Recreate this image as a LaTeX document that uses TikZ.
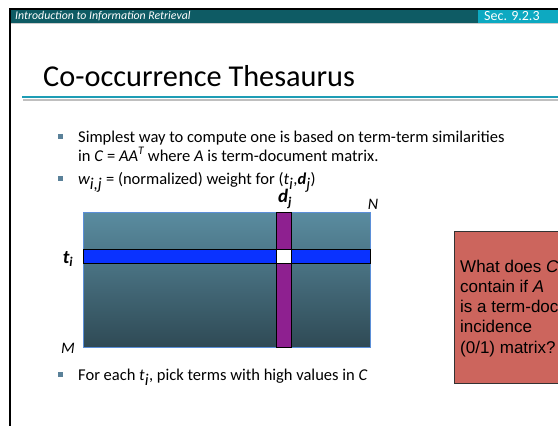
\documentclass[tikz,border=0pt]{standalone}
\usepackage{fontspec}
\setmainfont{Carlito}
\newfontfamily\arialfont{Liberation Sans}
\definecolor{hdrdark}{HTML}{0E5B64}
\definecolor{hdrcyan}{HTML}{0DA9C1}
\definecolor{rulecol}{HTML}{1E9DB5}
\definecolor{bulletcol}{HTML}{5A8199}
\definecolor{mattop}{HTML}{5A8CA0}
\definecolor{matbot}{HTML}{2F4A55}
\definecolor{matborder}{HTML}{5B8FD8}
\definecolor{blueband}{HTML}{0A32FF}
\definecolor{purpleband}{HTML}{8E2090}
\definecolor{redbox}{HTML}{CC655D}
\tikzset{
  bodytext/.style={anchor=base west, inner sep=0pt, font=\fontsize{16.5}{20}\selectfont},
  bulletsq/.style={fill=bulletcol, minimum size=5pt, inner sep=0pt},
  matlabel/.style={inner sep=0pt, font=\fontsize{19}{22}\selectfont\bfseries\itshape},
  corner/.style={inner sep=0pt, font=\fontsize{16}{18}\selectfont\itshape},
  boxtext/.style={anchor=base west, inner sep=0pt, font=\arialfont\fontsize{17}{20}\selectfont},
}
\begin{document}
\begin{tikzpicture}[x=1pt,y=-1pt]
\useasboundingbox (0,0) rectangle (558,426);
\clip (0,0) rectangle (558,426);
\fill[white] (0,0) rectangle (558,426);
% header
\fill[hdrdark] (10,10) rectangle (478,22.5);
\fill[hdrcyan] (478,10) rectangle (558,22.5);
\draw[gray!40, line width=1pt] (11,23.5) -- (558,23.5);
\draw[black, line width=2pt] (9,9) -- (558,9);
\draw[black, line width=2pt] (10,9) -- (10,426);
\node[anchor=base west, inner sep=0pt, text=white, font=\fontsize{11.8}{13}\selectfont\itshape] (hdr) at (15,19.5) {Introduction to Information Retrieval};
\node[anchor=base west, inner sep=0pt, text=white, font=\fontsize{14}{15}\selectfont] (sec) at (484,20.5) {Sec. 9.2.3};
% title
\node[anchor=base west, inner sep=0pt, font=\fontsize{30.3}{34}\selectfont] (title) at (43,86) {Co-occurrence Thesaurus};
\draw[gray!50, line width=2pt] (23,99.5) -- (558,99.5);
\draw[rulecol, line width=2pt] (22,97) -- (558,97);
% bullets
\node[bulletsq] (b1) at (60.5,136) {};
\node[bodytext] (t1) at (78,142) {Simplest way to compute one is based on term-term similarities};
\node[bodytext] (t1b) at (78,161) {in \textit{C} = \textit{AA\textsuperscript{T}} where \textit{A} is term-document matrix.};
\node[bulletsq] (b2) at (60.5,178) {};
\node[bodytext] (t2) at (78,184) {$\textit{w}_{\textit{i,j}}$ = (normalized) weight for (\textit{t}$_{\textit{i}}$,\textbf{\textit{d}}$_{\textit{j}}$)};
\node[bulletsq] (b3) at (60.5,374) {};
\node[bodytext] (t3) at (78,380) {For each \textit{t}$_{\textit{i}}$, pick terms with high values in \textit{C}};
% matrix
\shade[top color=mattop, bottom color=matbot] (83,212) rectangle (370,347);
\draw[matborder, line width=0.8pt] (83,212) rectangle (370,347);
\filldraw[fill=blueband, draw=black, line width=0.5pt] (83,249) rectangle (370,263);
\filldraw[fill=purpleband, draw=black, line width=0.5pt] (276,212) rectangle (291,347);
\filldraw[fill=white, draw=black, line width=0.5pt] (276,249) rectangle (291,263);
\node[matlabel] (dj) at (285,199) {d\textsubscript{\textit{j}}};
\node[corner] (N) at (373,204) {N};
\node[matlabel] (ti) at (68,259) {t\textsubscript{\textit{i}}};
\node[corner] (M) at (68,348) {M};
% question box
\filldraw[fill=redbox, draw=black!80, line width=0.8pt] (454,231) rectangle (600,383);
\node[boxtext] (q1) at (460,272) {What does \textit{C}};
\node[boxtext] (q2) at (460,292.3) {contain if \textit{A}};
\node[boxtext] (q3) at (460,312.6) {is a term-doc};
\node[boxtext] (q4) at (460,332.9) {incidence};
\node[boxtext] (q5) at (460,353.2) {(0/1) matrix?};
\end{tikzpicture}
\end{document}
